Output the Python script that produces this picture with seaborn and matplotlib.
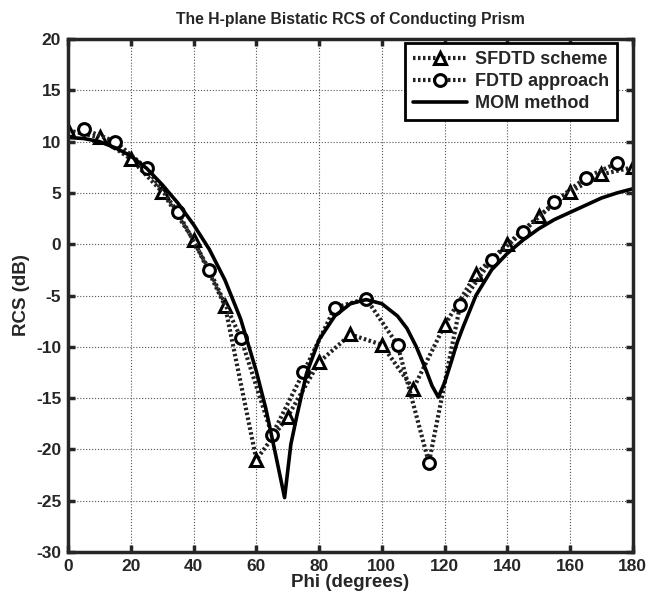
import numpy as np
import pandas as pd
import matplotlib
matplotlib.use("Agg")
import matplotlib.pyplot as plt
import seaborn as sns

# data
sfdtd_phi = [0, 10, 20, 30, 40, 50, 60, 70, 80, 90, 100, 110, 120, 130, 140, 150, 160, 170, 180]
sfdtd_rcs = [11.1, 10.4, 8.3, 5.1, 0.4, -6.0, -21.0, -16.8, -11.5, -8.8, -9.8, -14.1, -7.9, -2.9, 0.0, 2.7, 5.1, 6.8, 7.5]

fdtd_phi = [5, 15, 25, 35, 45, 55, 65, 75, 85, 95, 105, 115, 125, 135, 145, 155, 165, 175]
fdtd_rcs = [11.2, 10.0, 7.4, 3.1, -2.5, -9.1, -18.6, -12.5, -6.2, -5.3, -9.8, -21.3, -5.9, -1.5, 1.2, 4.1, 6.5, 7.9]

mom_phi = [0, 5, 10, 15, 20, 25, 30, 35, 40, 45, 50, 55, 60, 63, 66, 69, 71, 73, 76, 80,
           85, 90, 95, 100, 105, 108, 111, 114, 116, 118, 120, 122, 124, 126, 130, 135,
           140, 145, 150, 155, 160, 165, 170, 175, 180]
mom_rcs = [10.4, 10.3, 10.0, 9.4, 8.6, 7.4, 5.8, 4.0, 1.9, -0.5, -3.5, -7.3, -12.4, -16.0, -20.3, -24.7, -19.5, -16.6, -12.6, -9.3,
           -7.0, -5.8, -5.4, -5.8, -7.0, -8.2, -10.0, -12.2, -13.8, -14.9, -13.5, -11.6, -9.6, -8.0, -5.0, -2.5,
           -0.9, 0.4, 1.5, 2.4, 3.1, 3.8, 4.5, 5.0, 5.4]

sfdtd = pd.DataFrame({"phi": sfdtd_phi, "rcs": sfdtd_rcs})
fdtd = pd.DataFrame({"phi": fdtd_phi, "rcs": fdtd_rcs})
mom = pd.DataFrame({"phi": mom_phi, "rcs": mom_rcs})

sns.set_style("ticks")
plt.rcParams["font.family"] = ["Liberation Sans", "DejaVu Sans"]
plt.rcParams["font.weight"] = "bold"
plt.rcParams["axes.unicode_minus"] = False

fig = plt.figure(figsize=(6.49, 6.0), dpi=100)
ax = fig.add_axes([0.105, 0.08, 0.870, 0.855])

dot = (0, (0.6, 0.6))
sns.lineplot(data=sfdtd, x="phi", y="rcs", ax=ax, color="#222222", lw=3, linestyle=dot,
             marker="^", markersize=8.5, markerfacecolor="white", markeredgecolor="black",
             markeredgewidth=2.2, label="SFDTD scheme")
sns.lineplot(data=fdtd, x="phi", y="rcs", ax=ax, color="#222222", lw=3, linestyle=dot,
             marker="o", markersize=8.5, markerfacecolor="white", markeredgecolor="black",
             markeredgewidth=2.2, label="FDTD approach")
sns.lineplot(data=mom, x="phi", y="rcs", ax=ax, color="black", lw=2.6, label="MOM method")

ax.set_xlim(0, 180)
ax.set_ylim(-30, 20)
ax.set_xticks(np.arange(0, 181, 20))
ax.set_yticks(np.arange(-30, 21, 5))
ax.grid(True, linestyle=":", color="#555555", lw=0.8)
ax.tick_params(direction="in", top=True, right=True, length=5, width=2.5, labelsize=12.5, pad=5)
for lbl in ax.get_xticklabels() + ax.get_yticklabels():
    lbl.set_fontweight("bold")
for sp in ax.spines.values():
    sp.set_linewidth(2.5)
    sp.set_visible(True)

ax.set_xlabel("Phi (degrees)", fontsize=13.5, fontweight="bold", labelpad=0)
ax.set_ylabel("RCS (dB)", fontsize=13.5, fontweight="bold", labelpad=4)
ax.set_title("The H-plane Bistatic RCS of Conducting Prism", fontsize=11.3, fontweight="bold", pad=11)

leg = ax.legend(loc="upper right", bbox_to_anchor=(0.972, 0.992), fontsize=13, frameon=True,
                fancybox=False, handlelength=3.0, borderpad=0.45, labelspacing=0.28,
                handletextpad=0.4, borderaxespad=0)
leg.get_frame().set_edgecolor("black")
leg.get_frame().set_linewidth(2)
leg.get_frame().set_alpha(1)
for t in leg.get_texts():
    t.set_fontweight("bold")

fig.savefig("out.png", dpi=100)
